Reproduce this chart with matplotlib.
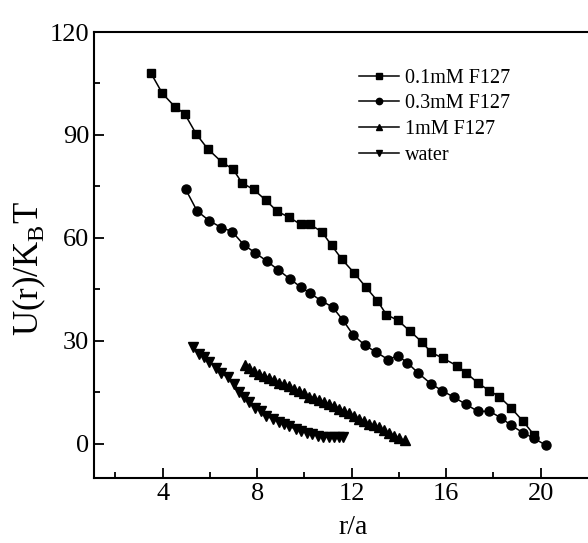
import numpy as np
import matplotlib.pyplot as plt

plt.rcParams['font.family'] = ['Liberation Serif', 'DejaVu Serif']
plt.rcParams['mathtext.fontset'] = 'custom'
plt.rcParams['mathtext.rm'] = 'Liberation Serif'

# 0.1 mM F127
r_01 = [3.49, 3.99, 4.52, 4.93, 5.42, 5.90, 6.50, 6.98, 7.36, 7.85, 8.36, 8.85,
        9.35, 9.84, 10.23, 10.73, 11.15, 11.59, 12.10, 12.60, 13.08, 13.47, 13.96,
        14.48, 14.96, 15.36, 15.86, 16.45, 16.85, 17.35, 17.83, 18.24, 18.73,
        19.24, 19.72]
u_01 = [108.2, 102.1, 98.2, 96.2, 90.3, 86.0, 82.1, 80.0, 76.0, 74.1, 71.0, 67.7,
        66.0, 63.9, 63.9, 61.8, 57.8, 53.7, 49.8, 45.6, 41.7, 37.6, 35.9,
        32.7, 29.7, 26.6, 24.9, 22.7, 20.6, 17.6, 15.4, 13.7, 10.5,
        6.6, 2.5]

# 0.3 mM F127
r_03 = [4.97, 5.46, 5.97, 6.48, 6.94, 7.43, 7.92, 8.41, 8.90, 9.39, 9.85, 10.23,
        10.70, 11.19, 11.64, 12.06, 12.57, 13.05, 13.54, 13.95, 14.35, 14.81,
        15.34, 15.83, 16.33, 16.82, 17.34, 17.83, 18.32, 18.73, 19.24, 19.72, 20.22]
u_03 = [74.2, 67.8, 65.0, 63.0, 61.8, 58.0, 55.6, 53.2, 50.6, 48.0, 45.6, 43.9,
        41.7, 39.8, 35.9, 31.7, 28.6, 26.6, 24.5, 25.6, 23.6, 20.6,
        17.5, 15.4, 13.5, 11.5, 9.4, 9.4, 7.5, 5.4, 3.2, 1.5, -0.5]

# 1 mM F127
r_1 = [7.50, 7.67, 7.88, 8.09, 8.30, 8.52, 8.73, 8.94, 9.15, 9.36, 9.57, 9.78,
       9.99, 10.21, 10.42, 10.63, 10.84, 11.05, 11.26, 11.47, 11.68, 11.89,
       12.10, 12.32, 12.53, 12.74, 12.95, 13.16, 13.37, 13.58, 13.79, 14.00, 14.26]
u_1 = [22.9, 21.9, 21.1, 20.3, 19.7, 19.2, 18.4, 17.8, 17.3, 16.7, 15.9, 15.2,
       14.6, 13.7, 13.3, 12.6, 12.1, 11.5, 11.0, 10.2, 9.6, 8.9,
       8.0, 7.2, 6.6, 5.8, 5.3, 4.7, 3.9, 3.2, 2.3, 1.5, 0.9]

# water
r_w = [5.28, 5.56, 5.77, 5.98, 6.27, 6.48, 6.76, 7.04, 7.25, 7.46, 7.67, 7.93,
       8.17, 8.38, 8.66, 8.94, 9.15, 9.36, 9.64, 9.85, 10.13, 10.34, 10.56,
       10.77, 11.05, 11.26, 11.47, 11.64]
u_w = [28.1, 26.1, 25.1, 23.9, 21.9, 20.5, 19.3, 17.3, 14.9, 13.5, 12.0, 10.5,
       9.6, 8.1, 7.1, 6.3, 5.6, 5.0, 4.2, 3.7, 3.2, 2.7, 2.3,
       2.0, 1.8, 1.8, 1.8, 1.9]

fig = plt.figure(figsize=(5.88, 5.43), dpi=100)
ax = fig.add_axes([0.160, 0.120, 0.840, 0.821])

ax.plot(r_01, u_01, 'k-', marker='s', ms=6, lw=1.1, label='0.1mM F127')
ax.plot(r_03, u_03, 'k-', marker='o', ms=6.5, lw=1.1, label='0.3mM F127')
ax.plot(r_1, u_1, 'k-', marker='^', ms=7, lw=1.1, label='1mM F127')
ax.plot(r_w, u_w, 'k-', marker='v', ms=7, lw=1.1, label='water')

ax.set_xlim(1.1, 22)
ax.set_ylim(-10, 120)
ax.set_xticks([4, 8, 12, 16, 20])
ax.set_xticks([2, 6, 10, 14, 18], minor=True)
ax.set_yticks([0, 30, 60, 90, 120])
ax.set_yticks([15, 45, 75, 105], minor=True)
ax.tick_params(which='both', direction='in', labelsize=19, width=1.3)
ax.tick_params(which='major', length=7)
ax.tick_params(which='minor', length=4)
ax.spines['right'].set_visible(False)
for s in ['left', 'bottom', 'top']:
    ax.spines[s].set_linewidth(1.5)

ax.set_xlabel('r/a', fontsize=20)
ax.xaxis.set_label_coords(0.524, -0.083)
ax.set_ylabel(r'U(r)/K$_\mathrm{B}$T', fontsize=25)
ax.yaxis.set_label_coords(-0.093, 0.47)

ax.legend(loc='upper left', bbox_to_anchor=(0.515, 0.94), frameon=False,
          fontsize=14.5, handlelength=2.0, handletextpad=0.3, labelspacing=0.32,
          borderpad=0, markerscale=0.7)

fig.savefig('out.png', dpi=100)
